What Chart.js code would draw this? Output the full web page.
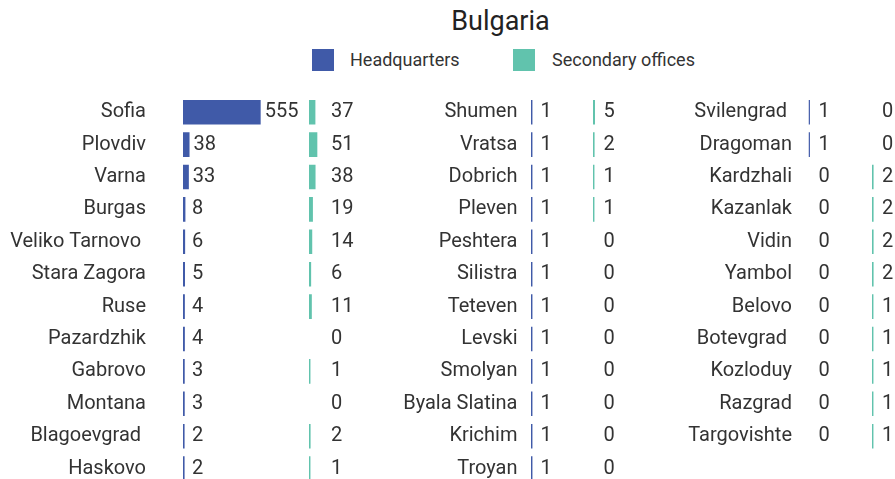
<!DOCTYPE html>
<html>
<head>
<meta charset="utf-8">
<title>Bulgaria</title>
<script src="https://cdn.jsdelivr.net/npm/chart.js@4.4.1/dist/chart.umd.min.js"></script>
<style>
  html, body { margin: 0; padding: 0; width: 895px; height: 479px; overflow: hidden; background: #fff; }
  body { position: relative; font-family: Roboto, "Noto Sans", sans-serif; }
  #title { position: absolute; left: 0; top: 8px; width: 1001px; text-align: center;
           font-size: 27px; line-height: 27px; color: #222; font-weight: 400; }
  .key { position: absolute; top: 49px; width: 22px; height: 22px; }
  .keytext { position: absolute; top: 49px; height: 22px; line-height: 22px; font-size: 18px; color: #333; white-space: nowrap; }
  canvas { position: absolute; top: 0; }
</style>
</head>
<body>
<div id="title">Bulgaria</div>
<div class="key" style="left:312px;background:#405aa8"></div>
<div class="keytext" style="left:350px">Headquarters</div>
<div class="key" style="left:513px;background:#61c3ad"></div>
<div class="keytext" style="left:552px">Secondary offices</div>

<canvas id="hq1"></canvas>
<canvas id="sec1"></canvas>
<canvas id="hq2"></canvas>
<canvas id="sec2"></canvas>
<canvas id="hq3"></canvas>
<canvas id="sec3"></canvas>

<script>
// Offices per city: headquarters and secondary offices, in three columns of cities
const citiesA = ['Sofia', 'Plovdiv', 'Varna', 'Burgas', 'Veliko Tarnovo ', 'Stara Zagora', 'Ruse',
                 'Pazardzhik', 'Gabrovo', 'Montana', 'Blagoevgrad ', 'Haskovo'];
const headquartersA = [555, 38, 33, 8, 6, 5, 4, 4, 3, 3, 2, 2];
const secondaryA    = [37, 51, 38, 19, 14, 6, 11, 0, 1, 0, 2, 1];

const citiesB = ['Shumen', 'Vratsa', 'Dobrich', 'Pleven', 'Peshtera', 'Silistra', 'Teteven',
                 'Levski', 'Smolyan', 'Byala Slatina', 'Krichim', 'Troyan'];
const headquartersB = [1, 1, 1, 1, 1, 1, 1, 1, 1, 1, 1, 1];
const secondaryB    = [5, 2, 1, 1, 0, 0, 0, 0, 0, 0, 0, 0];

const citiesC = ['Svilengrad ', 'Dragoman', 'Kardzhali', 'Kazanlak', 'Vidin', 'Yambol', 'Belovo',
                 'Botevgrad ', 'Kozloduy', 'Razgrad', 'Targovishte'];
const headquartersC = [1, 1, 0, 0, 0, 0, 0, 0, 0, 0, 0];
const secondaryC    = [0, 0, 2, 2, 2, 2, 1, 1, 1, 1, 1];

const BLUE = '#405aa8';
const GREEN = '#61c3ad';
const TEXT = '#333333';
const FONT = 'Roboto, "Noto Sans", sans-serif';

// shared geometry (canvases run past the bottom edge so the last row is cut like a scrolled table)
const CANVAS_H = 580;
const ROW_H = 32.4;
const PLOT_TOP = 96;
const PX_PER_UNIT = 0.1376;
const BAR_BASE = -9.5;      // bars start a little below zero so small counts stay visible

// value labels next to each bar
const valueLabels = {
  id: 'valueLabels',
  afterDatasetsDraw(chart, args, opts) {
    const { ctx } = chart;
    const xs = chart.scales.x, ys = chart.scales.y;
    const values = opts.values;
    ctx.save();
    ctx.font = '20px ' + FONT;
    ctx.fillStyle = TEXT;
    ctx.textAlign = 'left';
    ctx.textBaseline = 'middle';
    values.forEach((v, i) => {
      const start = xs.getPixelForValue(BAR_BASE) + opts.offset;
      const end = v > 0 ? xs.getPixelForValue(v) + 4 : 0;
      ctx.fillText(String(v), Math.max(start, end), ys.getPixelForValue(i));
    });
    ctx.restore();
  }
};

function makeChart(id, cfg) {
  const canvas = document.getElementById(id);
  canvas.width = cfg.width;
  canvas.height = CANVAS_H;
  canvas.style.left = cfg.left + 'px';
  canvas.style.width = cfg.width + 'px';
  canvas.style.height = CANVAS_H + 'px';
  const rows = cfg.labels.length;
  const plotWidth = cfg.width - cfg.axisWidth;
  return new Chart(canvas, {
    type: 'bar',
    data: {
      labels: cfg.labels,
      datasets: [{
        data: cfg.values.map(v => (v === 0 ? null : v)),
        base: BAR_BASE,
        backgroundColor: cfg.color,
        borderWidth: 0,
        categoryPercentage: 1,
        barPercentage: 0.76
      }]
    },
    options: {
      indexAxis: 'y',
      responsive: false,
      animation: false,
      events: [],
      layout: { padding: { top: PLOT_TOP, bottom: CANVAS_H - PLOT_TOP - rows * ROW_H, left: 0, right: 0 } },
      plugins: {
        legend: { display: false },
        tooltip: { enabled: false },
        title: { display: false },
        valueLabels: { values: cfg.values, offset: cfg.labelOffset }
      },
      scales: {
        x: { display: false, min: BAR_BASE, max: BAR_BASE + plotWidth / PX_PER_UNIT },
        y: {
          display: cfg.axisWidth > 0,
          grid: { display: false, drawTicks: false },
          border: { display: false },
          ticks: { padding: cfg.tickPadding || 0, autoSkip: false, color: TEXT, font: { family: FONT, size: 20 } },
          afterFit(scale) { scale.width = cfg.axisWidth; }
        }
      }
    },
    plugins: [valueLabels]
  });
}

makeChart('hq1',  { left: 0,   width: 305, axisWidth: 183,   tickPadding: 37,   labels: citiesA, values: headquartersA, color: BLUE,  labelOffset: 9 });
makeChart('sec1', { left: 309, width: 60,  axisWidth: 0,                        labels: citiesA, values: secondaryA,    color: GREEN, labelOffset: 22 });
makeChart('hq2',  { left: 380, width: 181, axisWidth: 151,   tickPadding: 13.5, labels: citiesB, values: headquartersB, color: BLUE,  labelOffset: 9.5 });
makeChart('sec2', { left: 593, width: 40,  axisWidth: 0,                        labels: citiesB, values: secondaryB,    color: GREEN, labelOffset: 10.5 });
makeChart('hq3',  { left: 670, width: 169, axisWidth: 138.5, tickPadding: 16.5, labels: citiesC, values: headquartersC, color: BLUE,  labelOffset: 10 });
makeChart('sec3', { left: 872, width: 23,  axisWidth: 0,                        labels: citiesC, values: secondaryC,    color: GREEN, labelOffset: 10 });
</script>
</body>
</html>
